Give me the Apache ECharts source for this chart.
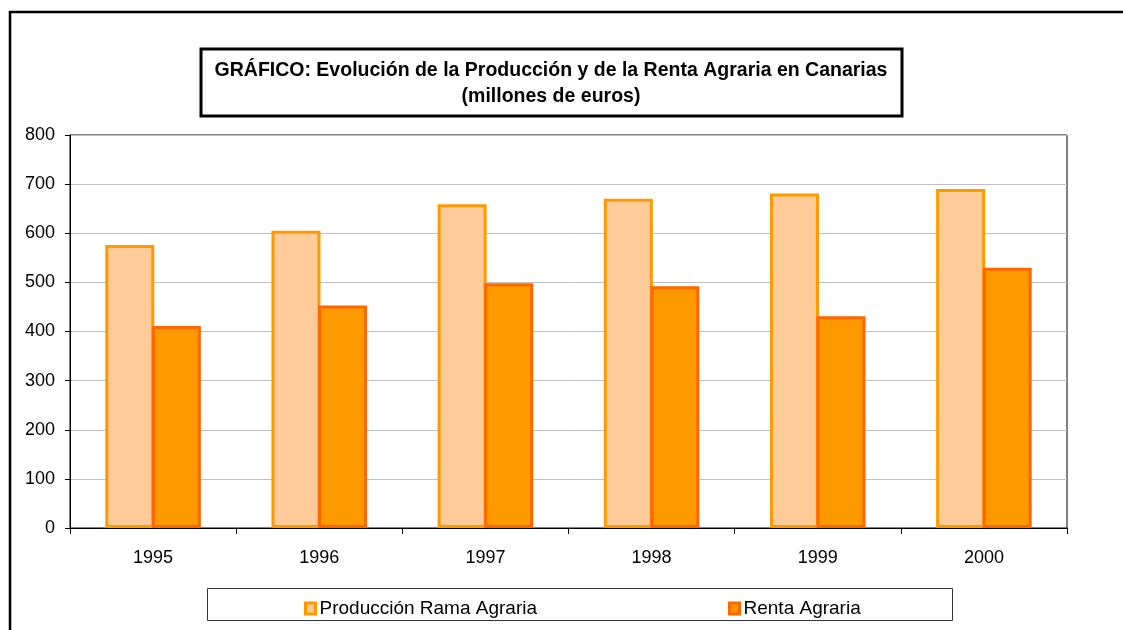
<!DOCTYPE html>
<html>
<head>
<meta charset="utf-8">
<script src="https://cdn.jsdelivr.net/npm/echarts@6/dist/echarts.min.js"></script>
<style>
    html, body { margin: 0; padding: 0; background: #fff; }
    #chart { width: 1123px; height: 630px; }
</style>
</head>
<body>
<div id="chart"></div>
<script>
    // datos (millones de euros)
    const years = ['1995', '1996', '1997', '1998', '1999', '2000'];
    const produccion = [576, 605, 659, 670, 681, 690];
    const renta = [411, 453, 498, 492, 431, 530];
    const yTicks = [0, 100, 200, 300, 400, 500, 600, 700, 800];

    const font = "'Liberation Sans', Arial, sans-serif";
    const chart = echarts.init(document.getElementById('chart'));

    const option = {
        animation: false,
        backgroundColor: '#fff',
        textStyle: { fontFamily: font },
        title: {
            text: 'GRÁFICO: Evolución de la Producción y de la Renta Agraria en Canarias\n(millones de euros)',
            left: 546,
            top: 53,
            textAlign: 'center',
            textStyle: {
                fontFamily: font,
                fontSize: 19.5,
                fontWeight: 'bold',
                color: '#000',
                lineHeight: 26
            }
        },
        legend: [
            {
                data: ['Producción Rama Agraria'],
                left: 299,
                top: 594,
                icon: 'rect',
                itemWidth: 10,
                itemHeight: 11,
                itemStyle: { borderWidth: 3 },
                textStyle: { fontFamily: font, fontSize: 19, color: '#000', padding: [0, 0, 0, -1] }
            },
            {
                data: ['Renta Agraria'],
                left: 723,
                top: 594,
                icon: 'rect',
                itemWidth: 10,
                itemHeight: 11,
                itemStyle: { borderWidth: 3 },
                textStyle: { fontFamily: font, fontSize: 19, color: '#000', padding: [0, 0, 0, -1] }
            }
        ],
        grid: {
            left: 70,
            right: 56,
            top: 135,
            bottom: 102,
            show: true,
            borderColor: '#000',
            borderWidth: 1
        },
        xAxis: {
            type: 'category',
            data: years,
            axisLine: { lineStyle: { color: '#000', width: 1 } },
            axisTick: { show: true, length: 6, lineStyle: { color: '#000' } },
            axisLabel: { color: '#000', fontSize: 18, margin: 21, fontFamily: font }
        },
        yAxis: {
            type: 'value',
            min: yTicks[0],
            max: yTicks[yTicks.length - 1],
            interval: 100,
            axisLine: { show: true, lineStyle: { color: '#000', width: 1 } },
            axisTick: { show: true, length: 5, lineStyle: { color: '#000' } },
            axisLabel: { color: '#000', fontSize: 18, margin: 15, fontFamily: font },
            splitLine: { show: true, lineStyle: { color: '#C0C0C0', width: 1 } }
        },
        series: [
            {
                name: 'Producción Rama Agraria',
                type: 'bar',
                data: produccion,
                barWidth: 49,
                barGap: '-5%',
                itemStyle: { color: '#FFCC99', borderColor: '#FF9900', borderWidth: 3 }
            },
            {
                name: 'Renta Agraria',
                type: 'bar',
                data: renta,
                barWidth: 49,
                barGap: '-5%',
                itemStyle: { color: '#FF9900', borderColor: '#FF6600', borderWidth: 3 }
            }
        ],
        graphic: [
            // marco exterior
            {
                type: 'rect',
                shape: { x: 10, y: 12, width: 1130, height: 640 },
                style: { fill: null, stroke: '#000', lineWidth: 2.5 },
                silent: true
            },
            // caja del titulo
            {
                type: 'rect',
                shape: { x: 201, y: 49, width: 701, height: 67 },
                style: { fill: null, stroke: '#000', lineWidth: 3 },
                silent: true
            },
            // caja de la leyenda
            {
                type: 'rect',
                shape: { x: 207.5, y: 588.5, width: 745, height: 32 },
                style: { fill: null, stroke: '#333', lineWidth: 1 },
                silent: true
            }
        ]
    };

    chart.setOption(option);
</script>
</body>
</html>
